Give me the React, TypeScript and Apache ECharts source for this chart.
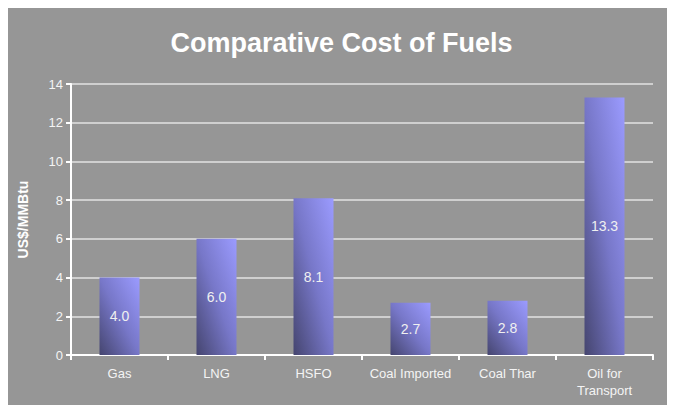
import React, { useEffect, useRef } from "react";
import * as echarts from "echarts";

const categories = ["Gas", "LNG", "HSFO", "Coal Imported", "Coal Thar", "Oil for\nTransport"];
const costs = [4.0, 6.0, 8.1, 2.7, 2.8, 13.3];
const titleText = "Comparative Cost of Fuels";
const yAxisName = "US$/MMBtu";

export default function App() {
  const ref = useRef<HTMLDivElement>(null);
  useEffect(() => {
    document.documentElement.style.overflow = "hidden";
    const chart = echarts.init(ref.current!, null, { renderer: "svg" });
    const font = "Liberation Sans";
    chart.setOption({
      animation: false,
      backgroundColor: "#969696",
      textStyle: { fontFamily: font },
      title: {
        text: titleText,
        left: "center",
        top: 16,
        textStyle: { color: "#ffffff", fontSize: 27, fontWeight: "bold", fontFamily: font },
      },
      grid: { left: 61, right: 22, top: 76, bottom: 50 },
      xAxis: {
        type: "category",
        data: categories,
        axisLine: { lineStyle: { color: "#ffffff", width: 2 } },
        axisTick: { show: true, length: 5, lineStyle: { color: "#ffffff", width: 2 } },
        axisLabel: { interval: 0, color: "#f4f4f4", fontSize: 13, margin: 10, lineHeight: 17, fontFamily: font },
      },
      yAxis: {
        type: "value",
        min: 0,
        max: 14,
        interval: 2,
        name: yAxisName,
        nameLocation: "middle",
        nameRotate: 90,
        nameGap: 41,
        nameTextStyle: { color: "#ffffff", fontSize: 14, fontWeight: "bold", fontFamily: font },
        axisLine: { show: true, lineStyle: { color: "#ffffff", width: 2 } },
        axisTick: { show: true, length: 5, lineStyle: { color: "#ffffff", width: 2 } },
        axisLabel: { color: "#f4f4f4", fontSize: 13, margin: 8, fontFamily: font },
        splitLine: { lineStyle: { color: "#e2e2e2", width: 1.5 } },
      },
      series: [
        {
          type: "bar",
          data: costs,
          barWidth: 40,
          itemStyle: {
            color: new echarts.graphic.LinearGradient(0, 1, 1, 0, [
              { offset: 0, color: "#45456f" },
              { offset: 0.5, color: "#7777c8" },
              { offset: 1, color: "#9b9bff" },
            ]),
          },
          label: {
            show: true,
            position: "inside",
            color: "#f0f0f0",
            fontSize: 14,
            fontFamily: font,
            formatter: (p: any) => Number(p.value).toFixed(1),
          },
        },
      ],
    });
    return () => chart.dispose();
  }, []);
  return <div ref={ref} style={{ width: 667, height: 397 }} />;
}
